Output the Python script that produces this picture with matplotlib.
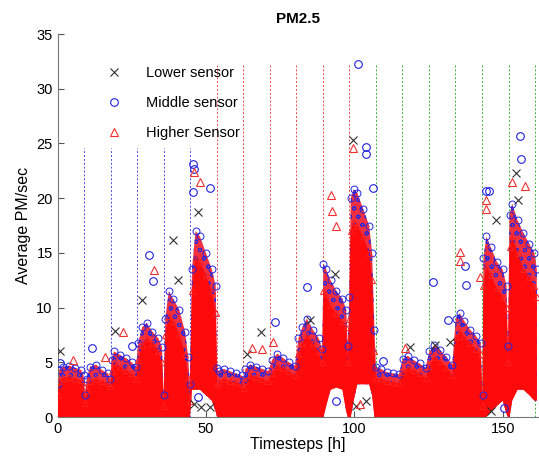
import numpy as np
import matplotlib
matplotlib.use("Agg")
import matplotlib.pyplot as plt

plt.rcParams['font.family'] = ['Liberation Sans', 'DejaVu Sans']
plt.rcParams['hatch.linewidth'] = 0.7

# envelope of the dense point cloud
# hour, top of solid core, top of mixed fringe, bottom of cloud
hours = [0.0, 0.5, 2.0, 4.0, 6.0, 8.0, 8.8, 9.3, 9.8, 11.0, 13.0, 15.0, 17.0, 17.8,
         18.2, 19.0, 21.0, 23.0, 25.0, 26.5, 27.2, 28.5, 30.0, 32.0, 34.0, 35.2, 35.8,
         36.3, 37.5, 39.0, 41.0, 43.0, 44.0, 44.6, 45.3, 46.5, 48.0, 50.0, 52.0, 53.3,
         53.8, 54.3, 56.0, 58.0, 60.0, 62.0, 62.8, 63.3, 65.0, 67.0, 69.0, 71.0, 72.3,
         74.0, 76.0, 78.0, 80.0, 81.2, 82.5, 84.0, 86.0, 88.0, 89.2, 89.6, 90.5, 92.0,
         94.0, 96.0, 97.3, 97.8, 98.3, 98.8, 99.8, 101.0, 103.0, 105.0, 106.0, 106.8,
         107.3, 109.0, 111.0, 113.0, 115.0, 116.3, 118.0, 120.0, 122.0, 124.0, 125.3,
         127.0, 129.0, 131.0, 133.0, 134.2, 135.5, 137.0, 139.0, 141.0, 142.6, 143.2,
         143.5, 144.5, 146.0, 148.0, 150.0, 151.3, 151.8, 152.3, 153.2, 155.0, 157.0,
         159.0, 160.7, 161.5]
core_top = [2.0, 3.3, 3.6, 3.7, 3.5, 3.4, 2.8, 1.3, 2.5, 3.3, 3.5, 3.3, 3.1, 2.8,
            4.2, 5.0, 4.6, 4.3, 4.0, 3.5, 5.2, 6.6, 7.2, 6.8, 6.0, 5.0, 1.0,
            7.5, 9.2, 8.8, 7.6, 5.8, 3.6, 1.5, 11.5, 14.5, 14.2, 13.0, 11.5, 9.5,
            3.0, 3.2, 3.5, 3.3, 3.2, 3.0, 2.7, 3.3, 3.8, 3.7, 3.5, 3.3, 4.0,
            4.7, 4.5, 4.2, 3.8, 5.8, 6.8, 7.5, 6.8, 6.0, 5.0, 11.5, 11.2, 10.2,
            9.5, 8.8, 8.2, 5.0, 9.0, 17.0, 17.8, 17.5, 16.5, 15.0, 12.5, 6.0,
            3.6, 3.5, 3.3, 3.2, 3.1, 4.1, 4.5, 4.3, 4.0, 3.6, 4.7,
            5.5, 5.1, 4.6, 3.8, 7.3, 7.9, 7.4, 6.8, 6.2, 5.8, 1.0,
            12.0, 13.8, 13.0, 11.8, 11.0, 10.0, 5.0, 15.5, 16.5, 15.0, 13.5,
            12.8, 12.0, 11.0]
fringe_top = [3.0, 4.3, 4.6, 4.7, 4.5, 4.3, 3.8, 2.0, 3.5, 4.6, 4.8, 4.3, 4.0, 3.5,
              5.2, 6.0, 5.7, 5.4, 5.0, 4.6, 6.8, 8.2, 8.6, 7.8, 7.2, 6.4, 2.0,
              9.0, 11.5, 10.8, 9.8, 7.8, 5.5, 3.0, 13.5, 17.0, 16.5, 15.0, 13.5, 12.0,
              4.5, 4.2, 4.4, 4.2, 4.0, 3.8, 3.5, 4.4, 4.8, 4.6, 4.4, 4.2, 5.2,
              5.8, 5.4, 5.0, 4.7, 7.2, 8.2, 9.0, 8.0, 7.2, 6.2, 14.0, 13.5, 12.5,
              11.5, 10.8, 9.8, 6.5, 11.0, 20.0, 20.8, 20.5, 19.0, 17.5, 15.0, 8.0,
              4.6, 4.4, 4.1, 4.0, 3.9, 5.3, 5.6, 5.2, 4.9, 4.5, 6.0,
              6.6, 6.1, 5.5, 4.8, 9.0, 9.5, 8.8, 8.0, 7.4, 6.8, 2.0,
              14.5, 16.5, 15.5, 14.2, 13.5, 12.0, 6.5, 18.5, 19.5, 18.0, 16.8,
              15.8, 15.0, 13.5]
bottom = [0, 0, 0, 0, 0, 0, 0, 0, 0, 0, 0, 0, 0, 0,
          0, 0, 0, 0, 0, 0, 0, 0, 0, 0, 0, 0, 0,
          0, 0, 0, 0, 0, 0, 0, 2.5, 2.5, 2.5, 2.0, 1.5, 0.5,
          0, 0, 0, 0, 0, 0, 0, 0, 0, 0, 0, 0, 0,
          0, 0, 0, 0, 0, 0, 0, 0, 0, 0, 0, 1.0, 2.5,
          2.7, 2.5, 0.5, 0, 0, 0, 1.5, 3.0, 3.0, 3.0, 2.0, 0,
          0, 0, 0, 0, 0, 0, 0, 0, 0, 0, 0,
          0, 0, 0, 0, 0, 0, 0, 0, 0, 0, 0,
          0, 0, 0.5, 1.0, 1.5, 0.3, 0, 0, 1.5, 2.5, 2.5,
          2.0, 1.5, 1.5]

# scattered points outside the dense cloud
lower_x = [0.8, 19.4, 28.3, 38.9, 40.6, 47.3, 48.5, 51.3, 63.7, 68.5, 85.0, 93.4,
           99.4, 118.7, 127.1, 132.2, 146.2, 147.9, 154.4, 155.0, 46.0, 100.5, 104.0]
lower_y = [6.0, 7.9, 10.7, 16.2, 12.5, 18.7, 0.9, 0.9, 5.8, 7.8, 8.9, 13.1,
           25.3, 6.4, 6.6, 6.9, 0.6, 18.0, 22.3, 19.8, 1.2, 1.0, 1.5]
middle_x = [101.3, 155.7, 156.3, 144.5, 145.5, 104.1, 103.9, 106.3, 45.6, 46.0,
            51.3, 45.7, 11.5, 30.7, 32.3, 0.8, 25.0, 73.2, 84.2, 126.5, 131.6,
            137.4, 109.6, 137.5, 47.5, 94.0, 150.5]
middle_y = [32.3, 25.7, 23.6, 20.7, 20.7, 24.7, 24.0, 20.9, 23.1, 22.7,
            20.9, 20.6, 6.3, 14.8, 12.4, 4.9, 6.5, 8.7, 11.9, 12.3, 8.9,
            13.8, 5.1, 12.1, 1.8, 1.5, 0.8]
higher_x = [45.9, 48.0, 22.2, 32.6, 5.3, 16.0, 99.4, 92.3, 92.5, 144.5, 153.0,
            157.4, 65.4, 68.8, 72.6, 93.9, 135.5, 135.5, 142.2, 144.3, 117.0, 102.0]
higher_y = [22.4, 21.5, 7.8, 13.4, 5.2, 5.5, 24.6, 20.3, 18.8, 19.8, 21.5,
            21.1, 6.3, 6.2, 6.9, 17.5, 15.1, 14.3, 12.8, 19.0, 6.3, 1.2]

# day separators
sep_hours = [8.9, 17.9, 26.8, 35.8, 44.7, 53.6, 62.6, 71.5, 80.5, 89.4, 98.3,
             107.3, 116.2, 125.2, 134.1, 143.0, 152.0, 160.9]
sep_tops = [24.6] * 5 + [32.3] * 13
sep_colors = ['#4a4ae0'] * 5 + ['#f04848'] * 6 + ['#40b040'] * 7

fig = plt.figure(figsize=(5.39, 4.66), dpi=100)
ax = fig.add_axes([0.1067, 0.105, 0.892, 0.822])

for h, t, c in zip(sep_hours, sep_tops, sep_colors):
  ax.plot([h, h], [0, t], color=c, lw=0.7, ls=(0, (2, 2)), zorder=1)

# mixed fringe: blue circles over red
ax.fill_between(hours, bottom, fringe_top, facecolor='#f03040', edgecolor='#2828e0',
                hatch='oo', linewidth=0, zorder=2)
ax.fill_between(hours, bottom, core_top, facecolor='#ff0a0a', edgecolor='none',
                linewidth=0, zorder=3)
# ragged edge of the cloud
ax.plot(hours, fringe_top, 'o', color='#2424e0', mfc='none', ms=5, mew=0.7, zorder=3.5)
ax.plot(hours, core_top, '^', color='#ff2020', mfc='none', ms=5, mew=0.7, zorder=3.5)

ax.plot(lower_x, lower_y, 'x', color='#303030', ms=5.5, mew=0.8, zorder=4,
        label='Lower sensor')
ax.plot(middle_x, middle_y, 'o', color='#2020e0', mfc='none', ms=5.5, mew=0.8,
        zorder=4, label='Middle sensor')
ax.plot(higher_x, higher_y, '^', color='#f03030', mfc='none', ms=5.5, mew=0.8,
        zorder=4, label='Higher Sensor')

ax.set_xlim(0, 162)
ax.set_ylim(0, 35)
ax.set_xticks([0, 50, 100, 150])
ax.set_yticks(range(0, 36, 5))
ax.tick_params(direction='in', labelsize=10.5, color='#555555', length=4)
for s in ['top', 'right']:
  ax.spines[s].set_visible(False)
for s in ['left', 'bottom']:
  ax.spines[s].set_color('#777777')
ax.set_xlabel('Timesteps [h]', fontsize=11.5, labelpad=1)
ax.set_ylabel('Average PM/sec', fontsize=11.5)
ax.set_title('PM2.5', fontsize=11, fontweight='bold', pad=8)

ax.legend(loc='upper left', bbox_to_anchor=(0.06, 0.95), frameon=False,
          fontsize=10.5, handletextpad=1.2, labelspacing=1.1)

fig.savefig('out.png', dpi=100)
